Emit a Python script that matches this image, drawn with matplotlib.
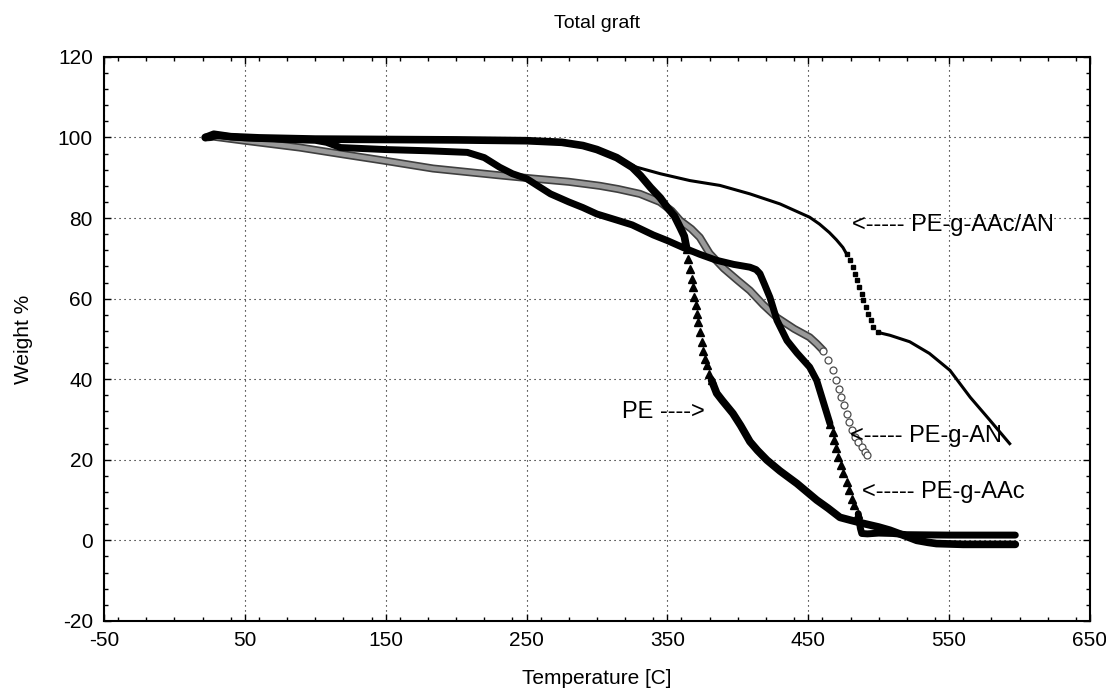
import matplotlib
matplotlib.use("Agg")
import matplotlib.pyplot as plt
from matplotlib.ticker import MultipleLocator

plt.rcParams['font.family'] = ['Liberation Sans', 'DejaVu Sans']
plt.rcParams['axes.unicode_minus'] = False

# ---------------- data ----------------
# PE : dense (band) parts and the sparse steep part (separate triangles)
pe_band1_T = [22, 28, 40, 60, 100, 150, 200, 250, 275, 290, 300, 314, 325, 331, 338, 345, 350, 355, 359, 362, 363.7]
pe_band1_W = [100, 100.8, 100.2, 99.9, 99.6, 99.5, 99.4, 99.2, 98.8, 98, 97, 95, 92.6, 90.5, 87.6, 85, 82.6, 80.5, 77.7, 75.5, 72.4]
pe_steep_T = [363.7, 364.8, 366, 367.2, 367.9, 368.9, 370.1, 370.8, 371.9, 373.1, 374.3, 375.5, 376.7, 377.9, 379.8, 381.4]
pe_steep_W = [72.4, 69.9, 67.4, 64.9, 63.0, 60.4, 58.3, 56.3, 54.2, 51.7, 49.2, 47.1, 45.1, 43.4, 41.4, 39.7]
pe_band2_T = [381.4, 385, 389, 396.5, 402, 408.6, 414, 420.7, 430, 442, 456, 464, 472.5, 480, 489, 500, 508, 518, 527, 535, 541, 560, 597]
pe_band2_W = [39.7, 36.5, 34.7, 31.5, 28.5, 24.5, 22.3, 19.9, 17.2, 14.1, 10, 8, 5.7, 5, 4.2, 3.3, 2.5, 1.2, 0, -0.5, -0.8, -1, -1]

# PE-g-AAc
aac_band1_T = [25, 30, 50, 80, 100, 108, 118, 150, 180, 208, 220, 231, 240, 250, 258, 267, 280, 290, 300, 314, 325, 340, 350, 361,
               373, 385, 397, 408.6, 413, 415.7, 419, 422.8, 427.8, 434.9, 442, 451, 456, 461, 465.4]
aac_band1_W = [100, 100.5, 99.9, 99.5, 99.3, 98.8, 97.5, 97, 96.7, 96.3, 95, 92.6, 91, 89.8, 88, 86, 84, 82.6, 81, 79.5, 78.3, 75.8, 74.4, 72.7,
               71, 69.5, 68.5, 67.8, 67.2, 66.2, 63.5, 60.3, 54.6, 49.6, 46.5, 43, 39.7, 34, 29]
aac_steep_T = [465.4, 467.3, 468.2, 469.7, 471.3, 473, 474.9, 477.2, 479.1, 480.8, 482.4, 485.5]
aac_steep_W = [29.0, 26.9, 24.8, 22.8, 20.7, 18.6, 16.6, 14.5, 12.4, 10.3, 8.7, 6.6]
aac_band2_T = [485.5, 487, 488, 492, 500, 510, 520, 550, 597]
aac_band2_W = [6.6, 3, 1.7, 1.6, 1.8, 1.7, 1.4, 1.3, 1.3]

# PE-g-AN
an_band_T = [22, 28, 50, 89, 120, 148, 183.6, 231, 254.6, 280, 302, 315, 330.5, 344.7, 353, 359, 367, 373, 380, 390, 400,
             408.6, 418, 427.8, 440, 451, 456, 460.7]
an_band_W = [100, 100.2, 99.2, 97.5, 95.8, 94.3, 92.3, 90.6, 89.8, 89, 88, 87.2, 86, 84, 81.8, 79.4, 77.3, 75.2, 71.2, 67.5, 64.5,
             62, 58.5, 55.3, 52.5, 50.4, 48.8, 47.1]
an_steep_T = [460.7, 464.2, 467.3, 469.7, 471.9, 473.6, 475.5, 477.2, 479.1, 481, 483.1, 485.5, 487.9, 490.3, 491.4]
an_steep_W = [47.1, 44.7, 42.2, 39.7, 37.6, 35.6, 33.5, 31.4, 29.4, 27.3, 25.6, 24.4, 23.2, 21.9, 21.3]

# PE-g-AAc/AN
aacan_band1_T = [22, 28, 50, 100, 150, 200, 250, 290, 314, 328.4, 345, 366, 387.3, 408.6, 430, 451, 458, 465, 470, 474.6, 477.2]
aacan_band1_W = [100, 100.8, 100, 99.7, 99.5, 99.4, 99.2, 98, 95, 92.6, 91, 89.3, 88.1, 86, 83.5, 80.2, 78.5, 76.4, 74.6, 72.7, 71.1]
aacan_steep_T = [477.2, 479.6, 481.5, 483.1, 484.8, 486.2, 487.9, 489.1, 491, 492.6, 494.3, 496.2, 499.8]
aacan_steep_W = [71.1, 69.5, 67.8, 66.2, 64.5, 62.9, 61.2, 59.6, 57.9, 56.2, 54.6, 52.9, 51.7]
aacan_band2_T = [499.8, 502, 508, 522, 536, 550.6, 565, 579, 593]
aacan_band2_W = [51.7, 51.4, 50.9, 49.3, 46.4, 42.2, 35.5, 29.8, 24]

x_ticks = [-50, 50, 150, 250, 350, 450, 550, 650]
y_ticks = [-20, 0, 20, 40, 60, 80, 100, 120]

annotations = [
    ("<----- PE-g-AAc/AN", 481, 78.2),
    ("PE ---->", 317.7, 31.8),
    ("<----- PE-g-AN", 479.6, 26.0),
    ("<----- PE-g-AAc", 488, 11.9),
]

# ---------------- figure ----------------
fig = plt.figure(figsize=(11.06, 7.0), dpi=100)
ax = fig.add_axes([0.094, 0.113, 0.8915, 0.8057])

# PE-g-AN (gray band, hollow circles)
ax.plot(an_band_T, an_band_W, color='0.25', lw=5.8, solid_capstyle='round', zorder=2)
ax.plot(an_band_T, an_band_W, color='0.6', lw=3.4, zorder=2.1)
ax.plot(an_steep_T, an_steep_W, ls='none', marker='o', ms=5, mfc='white', mec='0.3', mew=0.9, zorder=2.2)

# PE-g-AAc/AN (thin line, small squares in steep part)
ax.plot(aacan_band1_T, aacan_band1_W, color='black', lw=2.2, zorder=3)
ax.plot(aacan_steep_T, aacan_steep_W, ls='none', marker='s', ms=3.2, color='black', zorder=3)
ax.plot(aacan_band2_T, aacan_band2_W, color='black', lw=2.2, zorder=3)

# PE-g-AAc (thick band, triangles)
ax.plot(aac_band1_T, aac_band1_W, color='black', lw=5.0, solid_capstyle='round', zorder=4)
ax.plot(aac_steep_T, aac_steep_W, ls='none', marker='^', ms=6, color='black', zorder=4)
ax.plot(aac_band2_T, aac_band2_W, color='black', lw=5.0, solid_capstyle='round', zorder=4)

# PE (thick band, triangles)
ax.plot(pe_band1_T, pe_band1_W, color='black', lw=5.5, solid_capstyle='round', zorder=5)
ax.plot(pe_steep_T, pe_steep_W, ls='none', marker='^', ms=6, color='black', zorder=5)
ax.plot(pe_band2_T, pe_band2_W, color='black', lw=5.5, solid_capstyle='round', zorder=5)

for txt, x, y in annotations:
    ax.text(x, y, txt, fontsize=17, ha='left', va='center', color='black', zorder=6)

ax.set_xlim(-50, 650)
ax.set_ylim(-20, 120)
ax.set_xticks(x_ticks)
ax.set_yticks(y_ticks)
ax.xaxis.set_minor_locator(MultipleLocator(20))
ax.yaxis.set_minor_locator(MultipleLocator(4))
ax.tick_params(which='both', direction='in', top=True, right=True, labelsize=15)
ax.tick_params(which='major', length=5, width=1)
ax.tick_params(which='minor', length=3, width=1)
ax.tick_params(axis='x', pad=7)
ax.tick_params(axis='y', pad=8)
ax.grid(True, which='major', color='black', lw=0.8, ls=(0, (1, 3.5)))
for s in ax.spines.values():
    s.set_linewidth(1.5)

ax.set_xlabel("Temperature [C]", fontsize=15, labelpad=14)
ax.set_ylabel("Weight %", fontsize=15, labelpad=18)
ax.set_title("Total graft", fontsize=14, pad=21)

fig.savefig("out.png", dpi=100)
